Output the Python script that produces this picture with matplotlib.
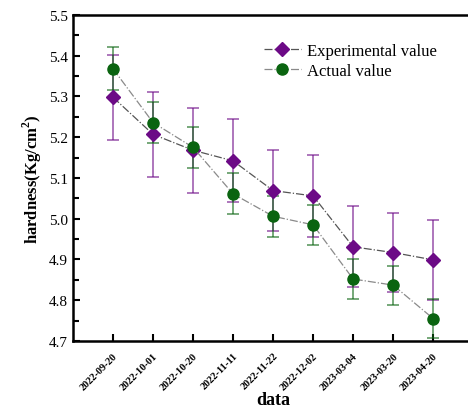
import numpy as np
import matplotlib
matplotlib.use("Agg")
import matplotlib.pyplot as plt
from matplotlib.ticker import MultipleLocator

# DATA
dates = ["2022-09-20", "2022-10-01", "2022-10-20", "2022-11-11", "2022-11-22",
         "2022-12-02", "2023-03-04", "2023-03-20", "2023-04-20"]
exp_val = [5.298, 5.207, 5.168, 5.142, 5.069, 5.056, 4.931, 4.917, 4.899]
exp_err = [0.105, 0.104, 0.104, 0.102, 0.100, 0.101, 0.099, 0.098, 0.098]
act_val = [5.368, 5.236, 5.175, 5.061, 5.006, 4.985, 4.852, 4.837, 4.755]
act_err = [0.053, 0.051, 0.051, 0.050, 0.050, 0.049, 0.049, 0.048, 0.048]

plt.rcParams["font.family"] = ["Liberation Serif", "DejaVu Serif"]
plt.rcParams["mathtext.fontset"] = "custom"
plt.rcParams["mathtext.rm"] = "Liberation Serif"
plt.rcParams["mathtext.bf"] = "Liberation Serif:bold"

fig = plt.figure(figsize=(4.68, 4.10), dpi=100)
ax = fig.add_axes([0.156, 0.166, 0.855, 0.795])

x = np.arange(len(dates))
purple = "#6c0a86"
green = "#0a6410"

# error bars (semi-transparent)
ax.errorbar(x, exp_val, yerr=exp_err, fmt="none", ecolor=purple, alpha=0.6,
            elinewidth=1.3, capsize=4, capthick=1.3, zorder=2)
ax.errorbar(x, act_val, yerr=act_err, fmt="none", ecolor=green, alpha=0.6,
            elinewidth=1.3, capsize=4, capthick=1.3, zorder=2)

# lines + markers
ax.plot(x, exp_val, linestyle="-.", color="#555555", linewidth=0.9,
        marker="D", markersize=7, markerfacecolor=purple, markeredgecolor=purple,
        label="Experimental value", zorder=3)
ax.plot(x, act_val, linestyle="-.", color="#8a8a8a", linewidth=0.9,
        marker="o", markersize=8, markerfacecolor=green, markeredgecolor=green,
        label="Actual value", zorder=3)

ax.set_xlim(-1, 9)
ax.set_ylim(4.7, 5.5)
ax.set_xticks(x)
ax.set_xticklabels(dates, rotation=45, ha="right", rotation_mode="anchor",
                   fontsize=7.5, fontweight="bold")
ax.yaxis.set_major_locator(MultipleLocator(0.1))
ax.yaxis.set_minor_locator(MultipleLocator(0.05))
ax.yaxis.set_major_formatter(matplotlib.ticker.FormatStrFormatter("%.1f"))
ax.tick_params(axis="both", direction="in", width=1.5, length=5)
ax.tick_params(axis="y", which="minor", direction="in", width=1.5, length=4)
ax.tick_params(axis="y", labelsize=11)
ax.tick_params(axis="x", pad=7)

for s in ax.spines.values():
    s.set_linewidth(1.8)

ax.set_ylabel("hardness(Kg/cm$^\\mathbf{2}$)", fontsize=12, fontweight="bold")
ax.set_xlabel("data", fontsize=13, fontweight="bold", labelpad=0)

ax.legend(loc="upper left", bbox_to_anchor=(0.44, 0.96), frameon=False,
          fontsize=12, handlelength=2.2, handletextpad=0.4, labelspacing=0.25)

fig.savefig("out.png", dpi=100)
